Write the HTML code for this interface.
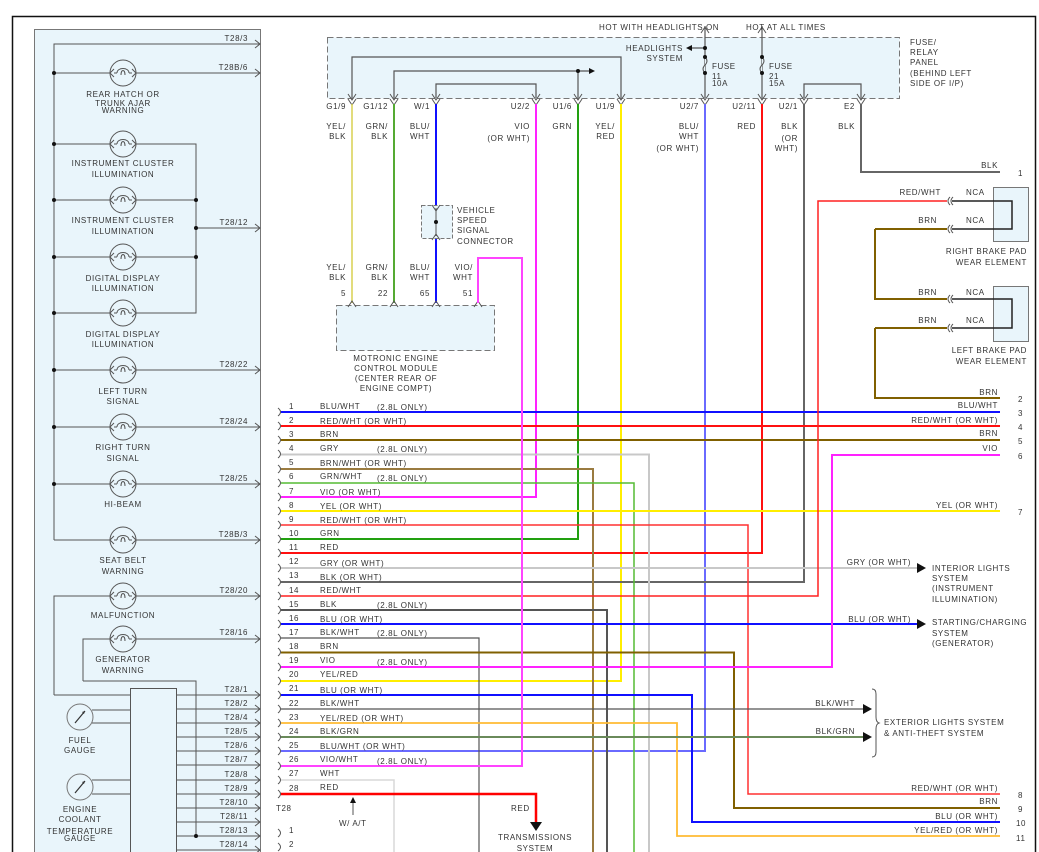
<!DOCTYPE html>
<html><head><meta charset="utf-8"><style>
html,body{margin:0;padding:0;background:#fff;}
svg{display:block;}
text{font-family:"Liberation Sans",sans-serif;font-size:8px;letter-spacing:0.6px;fill:#333;}
.r{text-anchor:end}.m{text-anchor:middle}
</style></head><body>
<svg width="1039" height="852" viewBox="0 0 1039 852" xmlns="http://www.w3.org/2000/svg">
<defs>
<g id="bulb"><circle r="13" fill="#e9f5fb" stroke="#555" stroke-width="1"/><path d="M-13 0 L-9 -4 M-13 0 L-9 4 M13 0 L9 -4 M13 0 L9 4 M-9 0 L-6 0 M6 0 L9 0 M-6 0 C-6 -6 6 -6 6 0 M-2 2 C-2 -4 2 -4 2 2" fill="none" stroke="#555" stroke-width="1"/></g>
<g id="gauge"><circle r="13" fill="#e9f5fb" stroke="#777" stroke-width="1"/><path d="M-5 6 L5 -6" stroke="#333" stroke-width="1.2"/><path d="M5 -6 L2 -5 L4 -3 Z" fill="#333"/></g>
<g id="ar"><path d="M-5 -4 L0 0 L-5 4" fill="none" stroke="#555" stroke-width="1"/></g>
<g id="cn"><path d="M-4 -3 Q0 3 0 3 Q0 3 4 -3" fill="none" stroke="#555" stroke-width="1"/></g>
<g id="lc"><path d="M-3 -4 Q2 0 -3 4" fill="none" stroke="#555" stroke-width="1"/></g>
</defs>
<path d="M12.5 852 V16.5 H1035.5 V852" fill="none" stroke="#111" stroke-width="1.5"/>
<rect x="34.5" y="29.5" width="226" height="830" fill="#e9f5fb" stroke="#777" stroke-width="1"/>
<g stroke="#555" stroke-width="1" fill="none">
<path d="M54 540 V44 H260"/>
<path d="M54 73 H260"/><path d="M54 144 H196 V313 H54"/><path d="M54 200 H196"/><path d="M54 257 H196"/><path d="M196 228 H260"/>
<path d="M54 370 H260"/><path d="M54 427 H260"/><path d="M54 484 H260"/><path d="M54 540 H260"/>
<path d="M54 695 V596 H260"/><path d="M54 695 H130"/>
<path d="M83 681 V639 H260"/><path d="M83 681 H196 V836"/>
<path d="M92 710 H130 M92 723 H130 M92 780 H130 M92 794 H130"/>
<path d="M176 695 H260 M176 709 H260 M176 723 H260 M176 737 H260 M176 751 H260 M176 765 H260 M176 780 H260 M176 794 H260 M176 808 H260 M176 822 H260 M176 836 H260 M176 850 H260"/>
</g>
<rect x="130.5" y="688.5" width="46" height="170" fill="#e9f5fb" stroke="#555"/>
<g fill="#111"><circle cx="54" cy="73" r="2"/><circle cx="54" cy="144" r="2"/><circle cx="54" cy="200" r="2"/><circle cx="54" cy="257" r="2"/><circle cx="54" cy="313" r="2"/><circle cx="54" cy="370" r="2"/><circle cx="54" cy="427" r="2"/><circle cx="54" cy="484" r="2"/><circle cx="196" cy="200" r="2"/><circle cx="196" cy="228" r="2"/><circle cx="196" cy="257" r="2"/><circle cx="196" cy="836" r="2"/></g>
<use href="#bulb" x="123" y="73"/><use href="#bulb" x="123" y="144"/><use href="#bulb" x="123" y="200"/><use href="#bulb" x="123" y="257"/><use href="#bulb" x="123" y="313"/><use href="#bulb" x="123" y="370"/><use href="#bulb" x="123" y="427"/><use href="#bulb" x="123" y="484"/><use href="#bulb" x="123" y="540"/><use href="#bulb" x="123" y="596"/><use href="#bulb" x="123" y="639"/>
<use href="#gauge" x="80" y="717"/><use href="#gauge" x="80" y="787"/>
<g>
<use href="#ar" x="260" y="44"/><use href="#ar" x="260" y="73"/><use href="#ar" x="260" y="228"/><use href="#ar" x="260" y="370"/><use href="#ar" x="260" y="427"/><use href="#ar" x="260" y="484"/><use href="#ar" x="260" y="540"/><use href="#ar" x="260" y="596"/><use href="#ar" x="260" y="639"/>
<use href="#ar" x="260" y="695"/><use href="#ar" x="260" y="709"/><use href="#ar" x="260" y="723"/><use href="#ar" x="260" y="737"/><use href="#ar" x="260" y="751"/><use href="#ar" x="260" y="765"/><use href="#ar" x="260" y="780"/><use href="#ar" x="260" y="794"/><use href="#ar" x="260" y="808"/><use href="#ar" x="260" y="822"/><use href="#ar" x="260" y="836"/><use href="#ar" x="260" y="850"/>
</g>
<g class="r">
<text x="248" y="41" class="r">T28/3</text><text x="248" y="70" class="r">T28B/6</text><text x="248" y="225" class="r">T28/12</text><text x="248" y="367" class="r">T28/22</text><text x="248" y="424" class="r">T28/24</text><text x="248" y="481" class="r">T28/25</text><text x="248" y="537" class="r">T28B/3</text><text x="248" y="593" class="r">T28/20</text><text x="248" y="635" class="r">T28/16</text>
<text x="248" y="692" class="r">T28/1</text><text x="248" y="706" class="r">T28/2</text><text x="248" y="720" class="r">T28/4</text><text x="248" y="734" class="r">T28/5</text><text x="248" y="748" class="r">T28/6</text><text x="248" y="762" class="r">T28/7</text><text x="248" y="777" class="r">T28/8</text><text x="248" y="791" class="r">T28/9</text><text x="248" y="805" class="r">T28/10</text><text x="248" y="819" class="r">T28/11</text><text x="248" y="833" class="r">T28/13</text><text x="248" y="847" class="r">T28/14</text>
</g>
<g class="m">
<text x="123" y="97" class="m">REAR HATCH OR</text><text x="123" y="106" class="m">TRUNK AJAR</text><text x="123" y="113" class="m">WARNING</text>
<text x="123" y="166" class="m">INSTRUMENT CLUSTER</text><text x="123" y="177" class="m">ILLUMINATION</text>
<text x="123" y="223" class="m">INSTRUMENT CLUSTER</text><text x="123" y="234" class="m">ILLUMINATION</text>
<text x="123" y="281" class="m">DIGITAL DISPLAY</text><text x="123" y="291" class="m">ILLUMINATION</text>
<text x="123" y="337" class="m">DIGITAL DISPLAY</text><text x="123" y="347" class="m">ILLUMINATION</text>
<text x="123" y="394" class="m">LEFT TURN</text><text x="123" y="404" class="m">SIGNAL</text>
<text x="123" y="450" class="m">RIGHT TURN</text><text x="123" y="461" class="m">SIGNAL</text>
<text x="123" y="507" class="m">HI-BEAM</text>
<text x="123" y="563" class="m">SEAT BELT</text><text x="123" y="574" class="m">WARNING</text>
<text x="123" y="618" class="m">MALFUNCTION</text>
<text x="123" y="662" class="m">GENERATOR</text><text x="123" y="673" class="m">WARNING</text>
<text x="80" y="743" class="m">FUEL</text><text x="80" y="753" class="m">GAUGE</text>
<text x="80" y="812" class="m">ENGINE</text><text x="80" y="822" class="m">COOLANT</text><text x="80" y="834" class="m">TEMPERATURE</text><text x="80" y="841" class="m">GAUGE</text>
</g>

<rect x="327.5" y="37.5" width="572" height="61" fill="#e9f5fb" stroke="#777" stroke-dasharray="6,3"/>
<g stroke="#555" stroke-width="1.2" fill="none">
<path d="M352 98 V57 H621 V98"/><path d="M394 98 V71 H590"/><path d="M578 71 V98"/><path d="M436 98 V84 H536 V98"/>
<path d="M705 26 V98 M690 48 H705"/><path d="M762 26 V98"/><path d="M804 98 V84 H861 V98"/>
</g>
<path d="M705 57 Q709 61 705 65 Q701 69 705 73" fill="#e9f5fb" stroke="#555"/>
<path d="M762 57 Q766 61 762 65 Q758 69 762 73" fill="#e9f5fb" stroke="#555"/>
<g fill="#111"><circle cx="578" cy="71" r="2"/><circle cx="705" cy="48" r="2"/><circle cx="705" cy="57" r="2"/><circle cx="705" cy="73" r="2"/><circle cx="762" cy="57" r="2"/><circle cx="762" cy="73" r="2"/>
<path d="M595 71 L589 68 L589 74Z"/><path d="M686 48 L692 45 L692 51Z"/></g>
<g><use href="#cn" x="352" y="97"/><use href="#cn" x="394" y="97"/><use href="#cn" x="436" y="97"/><use href="#cn" x="536" y="97"/><use href="#cn" x="578" y="97"/><use href="#cn" x="621" y="97"/><use href="#cn" x="705" y="97"/><use href="#cn" x="762" y="97"/><use href="#cn" x="804" y="97"/><use href="#cn" x="861" y="97"/>
<use href="#cn" x="352" y="102"/><use href="#cn" x="394" y="102"/><use href="#cn" x="436" y="102"/><use href="#cn" x="536" y="102"/><use href="#cn" x="578" y="102"/><use href="#cn" x="621" y="102"/><use href="#cn" x="705" y="102"/><use href="#cn" x="762" y="102"/><use href="#cn" x="804" y="102"/><use href="#cn" x="861" y="102"/>
<use href="#cn" x="705" y="30" transform="rotate(180 705 30)"/><use href="#cn" x="762" y="30" transform="rotate(180 762 30)"/></g>
<text x="599" y="30">HOT WITH HEADLIGHTS ON</text><text x="746" y="30">HOT AT ALL TIMES</text>
<text x="683" y="51" class="r">HEADLIGHTS</text><text x="683" y="61" class="r">SYSTEM</text>
<text x="712" y="69">FUSE</text><text x="712" y="79">11</text><text x="712" y="86">10A</text>
<text x="769" y="69">FUSE</text><text x="769" y="79">21</text><text x="769" y="86">15A</text>
<text x="910" y="45">FUSE/</text><text x="910" y="55">RELAY</text><text x="910" y="65">PANEL</text><text x="910" y="76">(BEHIND LEFT</text><text x="910" y="86">SIDE OF I/P)</text>
<g class="r">
<text x="346" y="109" class="r">G1/9</text><text x="388" y="109" class="r">G1/12</text><text x="430" y="109" class="r">W/1</text><text x="530" y="109" class="r">U2/2</text><text x="572" y="109" class="r">U1/6</text><text x="615" y="109" class="r">U1/9</text><text x="699" y="109" class="r">U2/7</text><text x="756" y="109" class="r">U2/11</text><text x="798" y="109" class="r">U2/1</text><text x="855" y="109" class="r">E2</text>
<text x="346" y="129" class="r">YEL/</text><text x="346" y="139" class="r">BLK</text>
<text x="388" y="129" class="r">GRN/</text><text x="388" y="139" class="r">BLK</text>
<text x="430" y="129" class="r">BLU/</text><text x="430" y="139" class="r">WHT</text>
<text x="530" y="129" class="r">VIO</text><text x="530" y="141" class="r">(OR WHT)</text>
<text x="572" y="129" class="r">GRN</text>
<text x="615" y="129" class="r">YEL/</text><text x="615" y="139" class="r">RED</text>
<text x="699" y="129" class="r">BLU/</text><text x="699" y="139" class="r">WHT</text><text x="699" y="151" class="r">(OR WHT)</text>
<text x="756" y="129" class="r">RED</text>
<text x="798" y="129" class="r">BLK</text><text x="798" y="141" class="r">(OR</text><text x="798" y="151" class="r">WHT)</text>
<text x="855" y="129" class="r">BLK</text>
</g>

<g fill="none" stroke-width="2">
<path d="M352 104 V303" stroke="#d8d050" stroke-width="1.5"/>
<path d="M394 104 V303" stroke="#55aa33"/>
<path d="M436 104 V303" stroke="#1010ff"/>
<path d="M536 104 V497 H281" stroke="#ff22ff"/>
<path d="M578 104 V539 H281" stroke="#22a010"/>
<path d="M621 104 V681 H281" stroke="#ffee00"/>
<path d="M705 104 V751 H281" stroke="#6a6aff"/>
<path d="M762 104 V553 H281" stroke="#ff1010"/>
<path d="M804 104 V582 H281" stroke="#666"/>
<path d="M861 104 V172 H1000" stroke="#666"/>
</g>
<rect x="421.5" y="205.5" width="31" height="33" fill="#e9f5fb" stroke="#777" stroke-dasharray="4,2"/>
<path d="M436 208 V236" stroke="#555" stroke-width="1"/><circle cx="436" cy="222" r="2" fill="#111"/>
<use href="#cn" x="436" y="208"/><use href="#cn" x="436" y="237" transform="rotate(180 436 237)"/>
<text x="457" y="213">VEHICLE</text><text x="457" y="223">SPEED</text><text x="457" y="233">SIGNAL</text><text x="457" y="244">CONNECTOR</text>
<rect x="336.5" y="305.5" width="158" height="45" fill="#e9f5fb" stroke="#777" stroke-dasharray="6,3"/>
<use href="#cn" x="352" y="304" transform="rotate(180 352 304)"/><use href="#cn" x="394" y="304" transform="rotate(180 394 304)"/><use href="#cn" x="436" y="304" transform="rotate(180 436 304)"/><use href="#cn" x="478" y="304" transform="rotate(180 478 304)"/>
<g class="r"><text x="346" y="270" class="r">YEL/</text><text x="346" y="280" class="r">BLK</text><text x="388" y="270" class="r">GRN/</text><text x="388" y="280" class="r">BLK</text><text x="430" y="270" class="r">BLU/</text><text x="430" y="280" class="r">WHT</text><text x="473" y="270" class="r">VIO/</text><text x="473" y="280" class="r">WHT</text>
<text x="346" y="296" class="r">5</text><text x="388" y="296" class="r">22</text><text x="430" y="296" class="r">65</text><text x="473" y="296" class="r">51</text></g>
<text x="396" y="361" class="m">MOTRONIC ENGINE</text><text x="396" y="371" class="m">CONTROL MODULE</text><text x="396" y="381" class="m">(CENTER REAR OF</text><text x="396" y="391" class="m">ENGINE COMPT)</text>

<g fill="none" stroke-width="2">
<path d="M281 412 H1000" stroke="#1010ff"/>
<path d="M281 426 H1000" stroke="#ff1010"/>
<path d="M281 440 H1000" stroke="#806000"/>
<path d="M281 454.5 H649 V852" stroke="#c8c8c8"/>
<path d="M281 469 H593 V852" stroke="#9a7b40"/>
<path d="M281 483 H634 V852" stroke="#55bb33" stroke-width="1.5"/>
<path d="M281 511 H1000" stroke="#ffee00"/>
<path d="M281 525 H748 V794 H1000" stroke="#ff3030" stroke-width="1.5"/>
<path d="M281 568 H918" stroke="#c8c8c8"/>
<path d="M281 596 H818 V201 H947" stroke="#ff2020" stroke-width="1.5"/>
<path d="M281 610 H607 V852" stroke="#555"/>
<path d="M281 624 H918" stroke="#1010ff"/>
<path d="M281 638 H479 V852" stroke="#555" stroke-width="1.2"/>
<path d="M281 652.5 H734 V808 H1000" stroke="#806000"/>
<path d="M281 667 H832 V455 H1000" stroke="#ff22ff"/>
<path d="M281 695 H692 V822 H1000" stroke="#1010ff"/>
<path d="M281 709 H865" stroke="#555" stroke-width="1.2"/>
<path d="M281 723 H677 V836 H1000" stroke="#ffbb33" stroke-width="1.8"/>
<path d="M281 737 H865" stroke="#6a8a5a"/>
<path d="M281 766 H522 V258 H478 V303" stroke="#ff44ff"/>
<path d="M281 780 H394 V852" stroke="#d8d8d8" stroke-width="1.5"/>
<path d="M281 794 H536 V824" stroke="#ff0000" stroke-width="2.5"/>
<path d="M875 229 H947 M875 229 V299 H947 M875 328 H947 M875 328 V398 H1000" stroke="#806000"/>
</g>
<g fill="#111"><path d="M536 831 L530 822 L542 822Z"/><path d="M926 568 L917 563 L917 573Z"/><path d="M926 624 L917 619 L917 629Z"/><path d="M872 709 L863 704 L863 714Z"/><path d="M872 737 L863 732 L863 742Z"/></g>
<path d="M353 815 V800" stroke="#555"/><path d="M353 797 L350 803 L356 803Z" fill="#111"/>
<g>
<use href="#lc" x="281" y="412"/><use href="#lc" x="281" y="426"/><use href="#lc" x="281" y="440"/><use href="#lc" x="281" y="454"/><use href="#lc" x="281" y="469"/><use href="#lc" x="281" y="483"/><use href="#lc" x="281" y="497"/><use href="#lc" x="281" y="511"/><use href="#lc" x="281" y="525"/><use href="#lc" x="281" y="539"/><use href="#lc" x="281" y="553"/><use href="#lc" x="281" y="568"/><use href="#lc" x="281" y="582"/><use href="#lc" x="281" y="596"/><use href="#lc" x="281" y="610"/><use href="#lc" x="281" y="624"/><use href="#lc" x="281" y="638"/><use href="#lc" x="281" y="652"/><use href="#lc" x="281" y="667"/><use href="#lc" x="281" y="681"/><use href="#lc" x="281" y="695"/><use href="#lc" x="281" y="709"/><use href="#lc" x="281" y="723"/><use href="#lc" x="281" y="737"/><use href="#lc" x="281" y="751"/><use href="#lc" x="281" y="766"/><use href="#lc" x="281" y="780"/><use href="#lc" x="281" y="794"/><use href="#lc" x="281" y="833"/><use href="#lc" x="281" y="847"/>
</g>
<g>
<text x="289" y="409">1</text><text x="320" y="409">BLU/WHT</text><text x="377" y="410">(2.8L ONLY)</text>
<text x="289" y="423">2</text><text x="320" y="424">RED/WHT (OR WHT)</text>
<text x="289" y="437">3</text><text x="320" y="437">BRN</text>
<text x="289" y="451">4</text><text x="320" y="451">GRY</text><text x="377" y="452">(2.8L ONLY)</text>
<text x="289" y="465">5</text><text x="320" y="466">BRN/WHT (OR WHT)</text>
<text x="289" y="479">6</text><text x="320" y="479">GRN/WHT</text><text x="377" y="481">(2.8L ONLY)</text>
<text x="289" y="494">7</text><text x="320" y="495">VIO (OR WHT)</text>
<text x="289" y="508">8</text><text x="320" y="509">YEL (OR WHT)</text>
<text x="289" y="522">9</text><text x="320" y="523">RED/WHT (OR WHT)</text>
<text x="289" y="536">10</text><text x="320" y="536">GRN</text>
<text x="289" y="550">11</text><text x="320" y="550">RED</text>
<text x="289" y="564">12</text><text x="320" y="566">GRY (OR WHT)</text>
<text x="289" y="578">13</text><text x="320" y="580">BLK (OR WHT)</text>
<text x="289" y="593">14</text><text x="320" y="593">RED/WHT</text>
<text x="289" y="607">15</text><text x="320" y="607">BLK</text><text x="377" y="608">(2.8L ONLY)</text>
<text x="289" y="621">16</text><text x="320" y="622">BLU (OR WHT)</text>
<text x="289" y="635">17</text><text x="320" y="635">BLK/WHT</text><text x="377" y="636">(2.8L ONLY)</text>
<text x="289" y="649">18</text><text x="320" y="649">BRN</text>
<text x="289" y="663">19</text><text x="320" y="663">VIO</text><text x="377" y="665">(2.8L ONLY)</text>
<text x="289" y="677">20</text><text x="320" y="677">YEL/RED</text>
<text x="289" y="691">21</text><text x="320" y="693">BLU (OR WHT)</text>
<text x="289" y="706">22</text><text x="320" y="706">BLK/WHT</text>
<text x="289" y="720">23</text><text x="320" y="721">YEL/RED (OR WHT)</text>
<text x="289" y="734">24</text><text x="320" y="734">BLK/GRN</text>
<text x="289" y="748">25</text><text x="320" y="749">BLU/WHT (OR WHT)</text>
<text x="289" y="762">26</text><text x="320" y="762">VIO/WHT</text><text x="377" y="764">(2.8L ONLY)</text>
<text x="289" y="776">27</text><text x="320" y="776">WHT</text>
<text x="289" y="791">28</text><text x="320" y="790">RED</text>
<text x="276" y="811">T28</text><text x="289" y="833">1</text><text x="289" y="847">2</text>
<text x="339" y="826">W/ A/T</text>
<text x="511" y="811">RED</text><text x="535" y="840" class="m">TRANSMISSIONS</text><text x="535" y="851" class="m">SYSTEM</text>
</g>
<g class="r">
<text x="998" y="168" class="r">BLK</text>
<text x="998" y="395" class="r">BRN</text><text x="998" y="408" class="r">BLU/WHT</text><text x="998" y="423" class="r">RED/WHT (OR WHT)</text><text x="998" y="436" class="r">BRN</text><text x="998" y="451" class="r">VIO</text><text x="998" y="508" class="r">YEL (OR WHT)</text>
<text x="998" y="791" class="r">RED/WHT (OR WHT)</text><text x="998" y="804" class="r">BRN</text><text x="998" y="819" class="r">BLU (OR WHT)</text><text x="998" y="833" class="r">YEL/RED (OR WHT)</text>
<text x="911" y="565" class="r">GRY (OR WHT)</text><text x="911" y="622" class="r">BLU (OR WHT)</text><text x="855" y="706" class="r">BLK/WHT</text><text x="855" y="734" class="r">BLK/GRN</text>
<text x="941" y="195" class="r">RED/WHT</text><text x="937" y="223" class="r">BRN</text><text x="937" y="295" class="r">BRN</text><text x="937" y="323" class="r">BRN</text>
</g>
<g><text x="1018" y="176">1</text><text x="1018" y="402">2</text><text x="1018" y="416">3</text><text x="1018" y="430">4</text><text x="1018" y="444">5</text><text x="1018" y="459">6</text><text x="1018" y="515">7</text><text x="1018" y="798">8</text><text x="1018" y="812">9</text><text x="1016" y="826">10</text><text x="1016" y="841">11</text></g>
<text x="932" y="571">INTERIOR LIGHTS</text><text x="932" y="581">SYSTEM</text><text x="932" y="591">(INSTRUMENT</text><text x="932" y="602">ILLUMINATION)</text>
<text x="932" y="625">STARTING/CHARGING</text><text x="932" y="636">SYSTEM</text><text x="932" y="646">(GENERATOR)</text>
<path d="M872 689 Q876 689 876 694 V717 Q876 722 879 723 Q876 724 876 729 V752 Q876 757 872 757" fill="none" stroke="#555"/>
<text x="884" y="725">EXTERIOR LIGHTS SYSTEM</text><text x="884" y="736">&amp; ANTI-THEFT SYSTEM</text>
<rect x="993.5" y="187.5" width="35" height="54" fill="#e9f5fb" stroke="#777"/>
<rect x="993.5" y="286.5" width="35" height="55" fill="#e9f5fb" stroke="#777"/>
<g fill="none" stroke="#222" stroke-width="1.5"><path d="M952 201 H1012 V229 H952"/><path d="M952 299 H1012 V328 H952"/></g>
<g fill="none" stroke="#555"><path d="M950 197 Q946 201 950 205 M953 197 Q949 201 953 205"/><path d="M950 225 Q946 229 950 233 M953 225 Q949 229 953 233"/><path d="M950 295 Q946 299 950 303 M953 295 Q949 299 953 303"/><path d="M950 324 Q946 328 950 332 M953 324 Q949 328 953 332"/></g>
<text x="966" y="195">NCA</text><text x="966" y="223">NCA</text><text x="966" y="295">NCA</text><text x="966" y="323">NCA</text>
<text x="1027" y="254" class="r">RIGHT BRAKE PAD</text><text x="1027" y="265" class="r">WEAR ELEMENT</text>
<text x="1027" y="353" class="r">LEFT BRAKE PAD</text><text x="1027" y="364" class="r">WEAR ELEMENT</text>
</svg>
</body></html>
